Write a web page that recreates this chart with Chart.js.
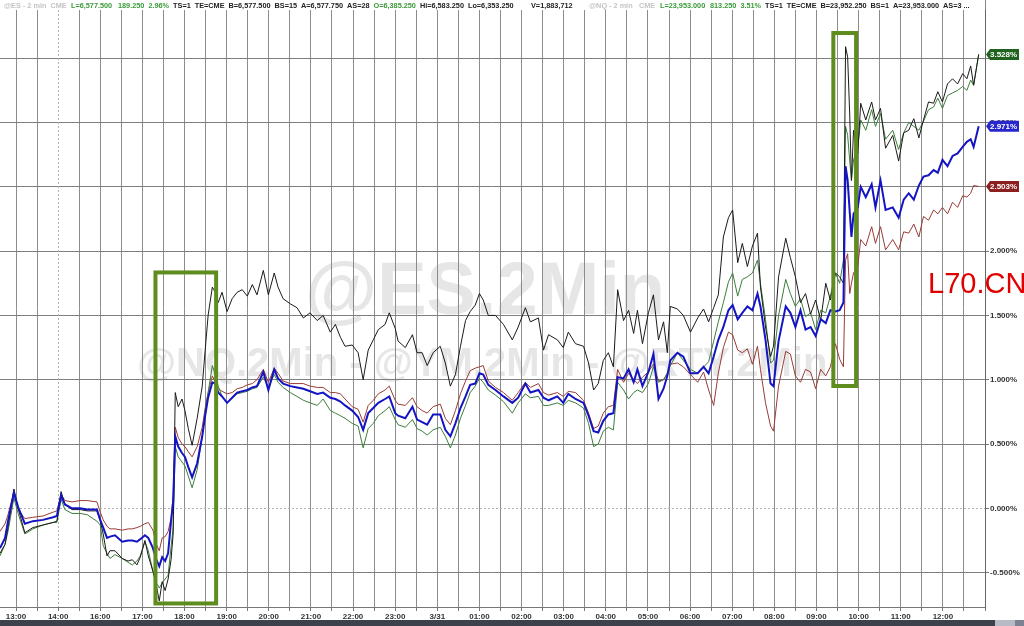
<!DOCTYPE html>
<html lang="en">
<head>
<meta charset="UTF-8">
<title>@ES 2 min | comparativo</title>
<script src="https://cdn.jsdelivr.net/npm/chart.js@4"></script>
<style>
    body { margin: 0; background: #fff; }
    #area_grafico { position: relative; width: 1024px; height: 626px; }
</style>
</head>
<body>
<div id="area_grafico"><canvas id="chartComparativo"></canvas></div>

<script>
    // tempo em horas a partir de 13:00 (sessao comprimida 14:00 -> 16:00)
    const hours = [
        -0.38, -0.26, -0.19, -0.05, 0.05, 0.21, 0.40, 0.64, 0.88, 0.97,
        1.07, 1.16, 1.33, 1.52, 1.69, 1.92, 2.00, 2.07, 2.16, 2.23,
        2.35, 2.52, 2.66, 2.76, 2.87, 2.95, 3.06, 3.14, 3.25, 3.33,
        3.40, 3.47, 3.54, 3.61, 3.68, 3.73, 3.78, 3.85, 3.94, 4.01,
        4.09, 4.18, 4.30, 4.42, 4.49, 4.56, 4.66, 4.73, 4.80, 4.89,
        5.01, 5.13, 5.25, 5.37, 5.49, 5.61, 5.72, 5.87, 5.99, 6.13,
        6.22, 6.34, 6.51, 6.67, 6.82, 6.98, 7.15, 7.29, 7.46, 7.58,
        7.70, 7.81, 7.98, 8.12, 8.24, 8.36, 8.48, 8.60, 8.76, 8.86,
        9.00, 9.07, 9.24, 9.41, 9.52, 9.64, 9.76, 9.90, 10.07, 10.19,
        10.31, 10.43, 10.55, 10.67, 10.78, 10.90, 11.00, 11.09, 11.21, 11.38,
        11.57, 11.78, 11.92, 12.09, 12.21, 12.40, 12.52, 12.64, 12.85, 12.99,
        13.11, 13.28, 13.47, 13.59, 13.71, 13.82, 13.94, 14.06, 14.18, 14.28,
        14.42, 14.54, 14.66, 14.75, 14.87, 15.01, 15.13, 15.25, 15.37, 15.46,
        15.53, 15.70, 15.84, 16.01, 16.18, 16.32, 16.44, 16.56, 16.67, 16.79,
        16.91, 17.01, 17.13, 17.24, 17.36, 17.48, 17.60, 17.67, 17.79, 17.91,
        17.98, 18.10, 18.27, 18.38, 18.50, 18.62, 18.74, 18.86, 18.98, 19.10,
        19.22, 19.33, 19.45, 19.55, 19.64, 19.69, 19.74, 19.79, 19.83, 19.88,
        19.98, 20.05, 20.17, 20.31, 20.40, 20.52, 20.64, 20.81, 20.95, 21.07,
        21.19, 21.31, 21.43, 21.54, 21.66, 21.78, 21.88, 21.99, 22.11, 22.23,
        22.35, 22.47, 22.57, 22.66, 22.73, 22.85
    ];

    // linha preta
    const rtyPct = [
        -0.35, -0.28, -0.15, 0.15, 0.00, -0.19, -0.15, -0.13, -0.11, -0.10,
        0.13, 0.03, -0.01, -0.01, -0.02, -0.02, -0.10, -0.20, -0.37, -0.33,
        -0.33, -0.39, -0.41, -0.40, -0.44, -0.38, -0.25, -0.37, -0.49, -0.60,
        -0.72, -0.57, -0.64, -0.55, -0.40, -0.20, 0.90, 0.79, 0.85, 0.76,
        0.62, 0.49, 0.70, 0.95, 1.23, 1.50, 1.72, 1.68, 1.60, 1.68,
        1.53, 1.63, 1.68, 1.70, 1.65, 1.74, 1.66, 1.85, 1.66, 1.83,
        1.72, 1.63, 1.59, 1.56, 1.48, 1.52, 1.46, 1.50, 1.37, 1.43,
        1.33, 1.26, 1.27, 1.21, 1.00, 1.23, 1.31, 1.39, 1.43, 1.52,
        1.40, 1.30, 1.25, 1.35, 1.21, 1.21, 1.11, 1.21, 1.26, 1.13,
        0.95, 1.04, 1.26, 1.46, 1.53, 1.58, 1.67, 1.62, 1.50, 1.50,
        1.43, 1.31, 1.41, 1.56, 1.45, 1.48, 1.23, 1.35, 1.31, 1.25,
        1.37, 1.28, 1.26, 1.13, 0.92, 0.97, 1.15, 1.21, 1.10, 1.70,
        1.46, 1.54, 1.36, 1.54, 1.28, 1.52, 1.66, 1.31, 1.45, 1.21,
        1.57, 1.55, 1.50, 1.37, 1.48, 1.55, 1.45, 1.56, 1.66, 2.11,
        2.26, 2.32, 1.91, 2.06, 1.88, 2.04, 2.14, 1.72, 1.41, 1.18,
        1.26, 1.80, 2.10, 1.95, 1.80, 1.60, 1.67, 1.51, 1.62, 1.46,
        1.75, 1.62, 1.83, 1.80, 1.75, 3.59, 3.51, 3.05, 2.55, 2.94,
        2.76, 3.15, 3.02, 3.16, 3.02, 3.11, 2.80, 2.90, 2.70, 2.92,
        2.94, 3.03, 2.88, 3.02, 3.16, 3.15, 3.24, 3.16, 3.30, 3.34,
        3.30, 3.38, 3.34, 3.44, 3.29, 3.53
    ];

    // linha verde
    const nqPct = [
        -0.37, -0.28, -0.18, 0.08, -0.04, -0.20, -0.16, -0.13, -0.11, -0.11,
        0.07, -0.01, -0.04, -0.04, -0.05, -0.10, -0.13, -0.29, -0.35, -0.39,
        -0.36, -0.39, -0.42, -0.44, -0.41, -0.37, -0.26, -0.33, -0.49, -0.58,
        -0.62, -0.58, -0.55, -0.52, -0.30, -0.15, 0.48, 0.40, 0.36, 0.33,
        0.25, 0.16, 0.30, 0.56, 0.75, 0.90, 1.11, 1.04, 0.95, 0.87,
        0.82, 0.86, 0.89, 0.90, 0.91, 0.93, 0.94, 1.02, 0.94, 1.04,
        0.98, 0.94, 0.90, 0.87, 0.84, 0.82, 0.80, 0.85, 0.76, 0.74,
        0.72, 0.70, 0.66, 0.64, 0.47, 0.62, 0.66, 0.72, 0.76, 0.79,
        0.69, 0.65, 0.63, 0.69, 0.62, 0.60, 0.57, 0.61, 0.63, 0.56,
        0.47, 0.57, 0.70, 0.80, 0.90, 0.95, 1.01, 0.98, 0.92, 0.88,
        0.83, 0.74, 0.82, 0.89, 0.86, 0.87, 0.80, 0.80, 0.82, 0.80,
        0.84, 0.82, 0.78, 0.66, 0.48, 0.50, 0.60, 0.63, 0.61, 0.98,
        0.92, 0.85, 0.90, 0.92, 0.90, 0.97, 1.10, 0.98, 1.00, 1.05,
        1.11, 1.21, 1.15, 1.08, 1.05, 1.10, 1.14, 1.30, 1.45, 1.60,
        1.76, 1.83, 1.65, 1.78, 1.80, 1.83, 1.93, 1.75, 1.47, 1.13,
        1.15, 1.50, 1.78, 1.67, 1.57, 1.63, 1.49, 1.52, 1.39, 1.54,
        1.52, 1.65, 1.83, 1.75, 1.93, 2.97, 2.90, 2.70, 2.55, 2.71,
        2.81, 3.02, 2.94, 3.10, 2.97, 3.07, 2.87, 2.94, 2.79, 2.92,
        3.00, 2.97, 2.94, 3.01, 3.10, 3.12, 3.19, 3.11, 3.21, 3.23,
        3.25, 3.28, 3.25, 3.33, 3.29, 3.528
    ];

    // linha azul
    const esPct = [
        -0.31, -0.23, -0.10, 0.12, 0.01, -0.12, -0.10, -0.09, -0.07, -0.06,
        0.10, 0.03, 0.00, 0.00, -0.01, -0.01, -0.09, -0.15, -0.23, -0.22,
        -0.21, -0.26, -0.25, -0.25, -0.26, -0.24, -0.21, -0.23, -0.31, -0.40,
        -0.45, -0.38, -0.41, -0.35, -0.10, 0.05, 0.56, 0.48, 0.43, 0.40,
        0.32, 0.24, 0.35, 0.56, 0.72, 0.86, 0.98, 0.97, 0.90, 0.87,
        0.82, 0.86, 0.90, 0.91, 0.92, 0.94, 0.95, 1.06, 0.92, 1.08,
        1.01, 0.97, 0.95, 0.94, 0.93, 0.91, 0.89, 0.90, 0.86, 0.85,
        0.83, 0.80, 0.76, 0.71, 0.61, 0.74, 0.78, 0.82, 0.85, 0.87,
        0.74, 0.72, 0.70, 0.79, 0.69, 0.67, 0.65, 0.73, 0.73, 0.61,
        0.56, 0.66, 0.78, 0.87, 0.96, 0.97, 1.05, 1.04, 0.96, 0.92,
        0.87, 0.82, 0.86, 0.97, 0.90, 0.92, 0.86, 0.84, 0.87, 0.82,
        0.89, 0.85, 0.82, 0.72, 0.60, 0.59, 0.68, 0.73, 0.74, 1.02,
        1.01, 1.08, 0.98, 1.08, 0.95, 1.06, 1.20, 0.85, 0.93, 1.03,
        1.15, 1.21, 1.18, 1.05, 1.05, 1.10, 1.05, 1.18, 1.31, 1.41,
        1.54, 1.58, 1.47, 1.52, 1.57, 1.54, 1.67, 1.57, 1.31, 0.97,
        0.95, 1.30, 1.57, 1.52, 1.41, 1.54, 1.39, 1.41, 1.34, 1.47,
        1.44, 1.54, 1.53, 1.54, 1.60, 2.66, 2.55, 2.30, 2.11, 2.29,
        2.34, 2.50, 2.42, 2.52, 2.34, 2.55, 2.32, 2.34, 2.26, 2.40,
        2.45, 2.40, 2.51, 2.58, 2.59, 2.63, 2.61, 2.71, 2.66, 2.74,
        2.76, 2.81, 2.85, 2.87, 2.81, 2.971
    ];

    // linha vermelha
    const ymPct = [
        -0.18, -0.12, -0.05, 0.13, -0.01, -0.08, -0.07, -0.06, -0.03, -0.02,
        0.11, 0.06, 0.05, 0.06, 0.06, 0.05, -0.03, -0.09, -0.14, -0.16,
        -0.16, -0.17, -0.16, -0.16, -0.15, -0.14, -0.12, -0.11, -0.17, -0.28,
        -0.33, -0.23, -0.22, -0.18, -0.08, 0.10, 0.63, 0.55, 0.50, 0.48,
        0.44, 0.40, 0.48, 0.63, 0.78, 0.90, 1.03, 0.98, 0.93, 0.91,
        0.89, 0.90, 0.93, 0.94, 0.96, 0.97, 1.00, 1.08, 0.98, 1.09,
        1.05, 0.99, 0.97, 0.97, 0.97, 0.95, 0.94, 0.94, 0.90, 0.90,
        0.89, 0.85, 0.79, 0.77, 0.67, 0.80, 0.84, 0.89, 0.92, 0.95,
        0.84, 0.81, 0.80, 0.86, 0.79, 0.76, 0.74, 0.79, 0.81, 0.70,
        0.65, 0.76, 0.89, 0.99, 1.07, 1.09, 1.10, 1.11, 0.99, 0.94,
        0.90, 0.84, 0.90, 0.98, 0.94, 0.97, 0.90, 0.88, 0.90, 0.87,
        0.91, 0.90, 0.84, 0.74, 0.62, 0.64, 0.74, 0.79, 0.80, 1.08,
        0.98, 1.05, 1.00, 0.97, 1.02, 1.06, 1.12, 0.99, 1.00, 1.05,
        1.12, 1.13, 1.10, 1.04, 0.98, 1.06, 0.92, 0.80, 1.05, 1.25,
        1.37, 1.35, 1.23, 1.21, 1.24, 1.12, 1.26, 1.08, 0.82, 0.64,
        0.60, 0.95, 1.22, 1.20, 1.03, 0.98, 1.08, 1.06, 0.93, 1.08,
        1.03, 1.10, 1.28, 1.16, 1.10, 1.93, 1.98, 1.67, 1.75, 1.83,
        1.88, 2.09, 2.04, 2.19, 2.06, 2.19, 2.01, 2.09, 2.01, 2.15,
        2.14, 2.21, 2.11, 2.27, 2.24, 2.32, 2.29, 2.34, 2.29, 2.38,
        2.34, 2.43, 2.42, 2.45, 2.51, 2.503
    ];

    const hourLabels = ['13:00', '14:00', '16:00', '17:00', '18:00', '19:00', '20:00', '21:00', '22:00', '23:00',
        '3/31', '01:00', '02:00', '03:00', '04:00', '05:00', '06:00', '07:00', '08:00', '09:00',
        '10:00', '11:00', '12:00'];

    // caixas verdes de destaque (horas, %)
    const boxStart = [3.31, 19.40];
    const boxEnd = [4.75, 19.94];
    const boxTop = [1.834, 3.696];
    const boxBottom = [-0.740, 0.951];

    // cabecalho de cotacoes
    const headerTexts = ['@ES - 2 min', 'CME', 'L=6,577.500', '189.250', '2.96%', 'TS=1', 'TE=CME', 'B=6,577.500', 'BS=15',
        'A=6,577.750', 'AS=28', 'O=6,385.250', 'Hi=6,583.250', 'Lo=6,353.250', 'V=1,883,712', '@NQ - 2 min', 'CME',
        'L=23,953.000', '813.250', '3.51%', 'TS=1', 'TE=CME', 'B=23,952.250', 'BS=1', 'A=23,953.000', 'AS=3 ...'];
    const headerX = [0, 49, 71, 118, 144, 167, 192, 222, 265, 293, 337, 363, 408, 462, 531, 589, 639,
        660, 710, 735, 758, 782, 814, 862, 887, 937];
    const headerTipo = ['g', 'g', 'v', 'v', 'v', 'p', 'p', 'p', 'p', 'p', 'p', 'v', 'p', 'p', 'p', 'g', 'g',
        'v', 'v', 'v', 'p', 'p', 'p', 'p', 'p', 'p'];
    const corHeader = { g: '#c4c4c4', v: '#3a9a3a', p: '#222222' };

    const fonte = '"Liberation Sans", Arial, sans-serif';

    function pontos(valores) {
        return valores.map((v, i) => ({ x: hours[i], y: v }));
    }

    const extras = {
        id: 'extras',
        beforeDraw(chart) {
            const c = chart.ctx;
            c.save();
            c.fillStyle = '#e6e6e6';
            c.font = 'bold 74px ' + fonte;
            c.fillText('@ES.2Min', 305, 314);
            c.font = 'bold 40px ' + fonte;
            c.fillText('@NQ.2Min - @YM.2Min - @RTY.2Min', 137, 376);
            c.restore();
        },
        beforeDatasetsDraw(chart) {
            const c = chart.ctx;
            const x = chart.scales.x, y = chart.scales.y, a = chart.chartArea;
            c.save();
            c.strokeStyle = '#b0b0b0';
            c.lineWidth = 1;
            c.setLineDash([2, 2]);
            const px = Math.round(x.getPixelForValue(1)) + 0.5;
            c.beginPath();
            c.moveTo(px, a.top);
            c.lineTo(px, a.bottom);
            const py = Math.round(y.getPixelForValue(0)) + 0.5;
            c.moveTo(a.left, py);
            c.lineTo(a.right, py);
            c.stroke();
            c.restore();
        },
        afterDatasetsDraw(chart) {
            const c = chart.ctx;
            const x = chart.scales.x, y = chart.scales.y;
            c.save();
            c.strokeStyle = '#5f8c1f';
            c.lineWidth = 4;
            for (let i = 0; i < boxStart.length; i++) {
                const x0 = x.getPixelForValue(boxStart[i]);
                const x1 = x.getPixelForValue(boxEnd[i]);
                const y0 = y.getPixelForValue(boxTop[i]);
                const y1 = y.getPixelForValue(boxBottom[i]);
                c.strokeRect(x0, y0, x1 - x0, y1 - y0);
            }
            c.restore();
        },
        afterDraw(chart) {
            const c = chart.ctx;
            const y = chart.scales.y, a = chart.chartArea;
            c.save();

            // etiquetas do ultimo valor
            const tags = [[nqPct, '#1f631f'], [esPct, '#2626cc'], [ymPct, '#8c1f1f']];
            c.font = 'bold 8px ' + fonte;
            c.textBaseline = 'middle';
            tags.forEach(([serie, cor]) => {
                const v = serie[serie.length - 1];
                const py = y.getPixelForValue(v);
                c.fillStyle = cor;
                c.beginPath();
                c.moveTo(a.right + 1, py);
                c.lineTo(a.right + 5, py - 5.5);
                c.lineTo(1019, py - 5.5);
                c.lineTo(1019, py + 5.5);
                c.lineTo(a.right + 5, py + 5.5);
                c.closePath();
                c.fill();
                c.fillStyle = '#ffffff';
                c.fillText(v.toFixed(3) + '%', a.right + 5, py + 0.5);
            });

            // cabecalho (sem sobrepor textos)
            c.textBaseline = 'alphabetic';
            c.font = 'bold 7.3px ' + fonte;
            let fim = 0;
            headerTexts.forEach((t, i) => {
                const px = Math.max(headerX[i], fim + 4);
                c.fillStyle = corHeader[headerTipo[i]];
                c.fillText(t, px, 8);
                fim = px + c.measureText(t).width;
            });
            c.strokeStyle = '#888';
            c.lineWidth = 1;
            c.beginPath();
            c.moveTo(a.right + 0.5, 0);
            c.lineTo(a.right + 0.5, a.top);
            c.stroke();

            // marca d'agua vermelha
            c.fillStyle = '#e00000';
            c.font = '29px ' + fonte;
            c.fillText('L70.CN', 928, 293);

            // barra de rolagem
            c.fillStyle = '#3c414b';
            c.fillRect(0, 620, 995, 6);
            c.fillStyle = '#b8bbc6';
            c.fillRect(995, 620, 20, 6);
            c.fillStyle = '#7d8292';
            c.fillRect(1015, 620, 9, 6);
            c.restore();
        }
    };

    new Chart(document.getElementById('chartComparativo').getContext('2d'), {
        type: 'line',
        data: {
            datasets: [{
                label: 'ES',
                data: pontos(esPct),
                borderColor: '#1414c4',
                borderWidth: 2
            },
            {
                label: 'RTY',
                data: pontos(rtyPct),
                borderColor: '#1a1a1a',
                borderWidth: 1
            },
            {
                label: 'NQ',
                data: pontos(nqPct),
                borderColor: '#3b7d3b',
                borderWidth: 1
            },
            {
                label: 'YM',
                data: pontos(ymPct),
                borderColor: '#9a3b35',
                borderWidth: 1
            }
            ]
        },
        options: {
            responsive: true,
            maintainAspectRatio: false,
            animation: false,
            layout: { padding: { top: 10, left: 0, right: 0, bottom: 0 } },
            elements: { point: { radius: 0 }, line: { tension: 0 } },
            plugins: {
                legend: { display: false },
                tooltip: { enabled: false }
            },
            scales: {
                x: {
                    type: 'linear',
                    min: -0.38,
                    max: 23,
                    ticks: {
                        stepSize: 0.5,
                        includeBounds: false,
                        autoSkip: false,
                        maxRotation: 0,
                        padding: 1,
                        color: '#333',
                        font: { size: 8, weight: 'bold', family: fonte },
                        callback: v => (Number.isInteger(v) && hourLabels[v]) ? hourLabels[v] : ''
                    },
                    grid: {
                        color: ctx => (ctx.tick && ctx.tick.value === 1) ? 'rgba(0,0,0,0)' : '#8c8c8c',
                        tickColor: '#777',
                        tickLength: 4
                    },
                    border: { color: '#777' },
                    afterFit: s => { s.height = 19; }
                },
                y: {
                    position: 'right',
                    min: -0.7675,
                    max: 3.875,
                    ticks: {
                        stepSize: 0.5,
                        includeBounds: false,
                        padding: 1,
                        color: '#333',
                        font: { size: 8, weight: 'bold', family: fonte },
                        callback: v => v.toFixed(3) + '%'
                    },
                    grid: {
                        color: ctx => (ctx.tick && ctx.tick.value === 0) ? 'rgba(0,0,0,0)' : '#7f7f7f',
                        tickColor: '#777',
                        tickLength: 4
                    },
                    border: { color: '#666' },
                    afterFit: s => { s.width = 39; }
                }
            }
        },
        plugins: [extras]
    });
</script>
</body>
</html>
